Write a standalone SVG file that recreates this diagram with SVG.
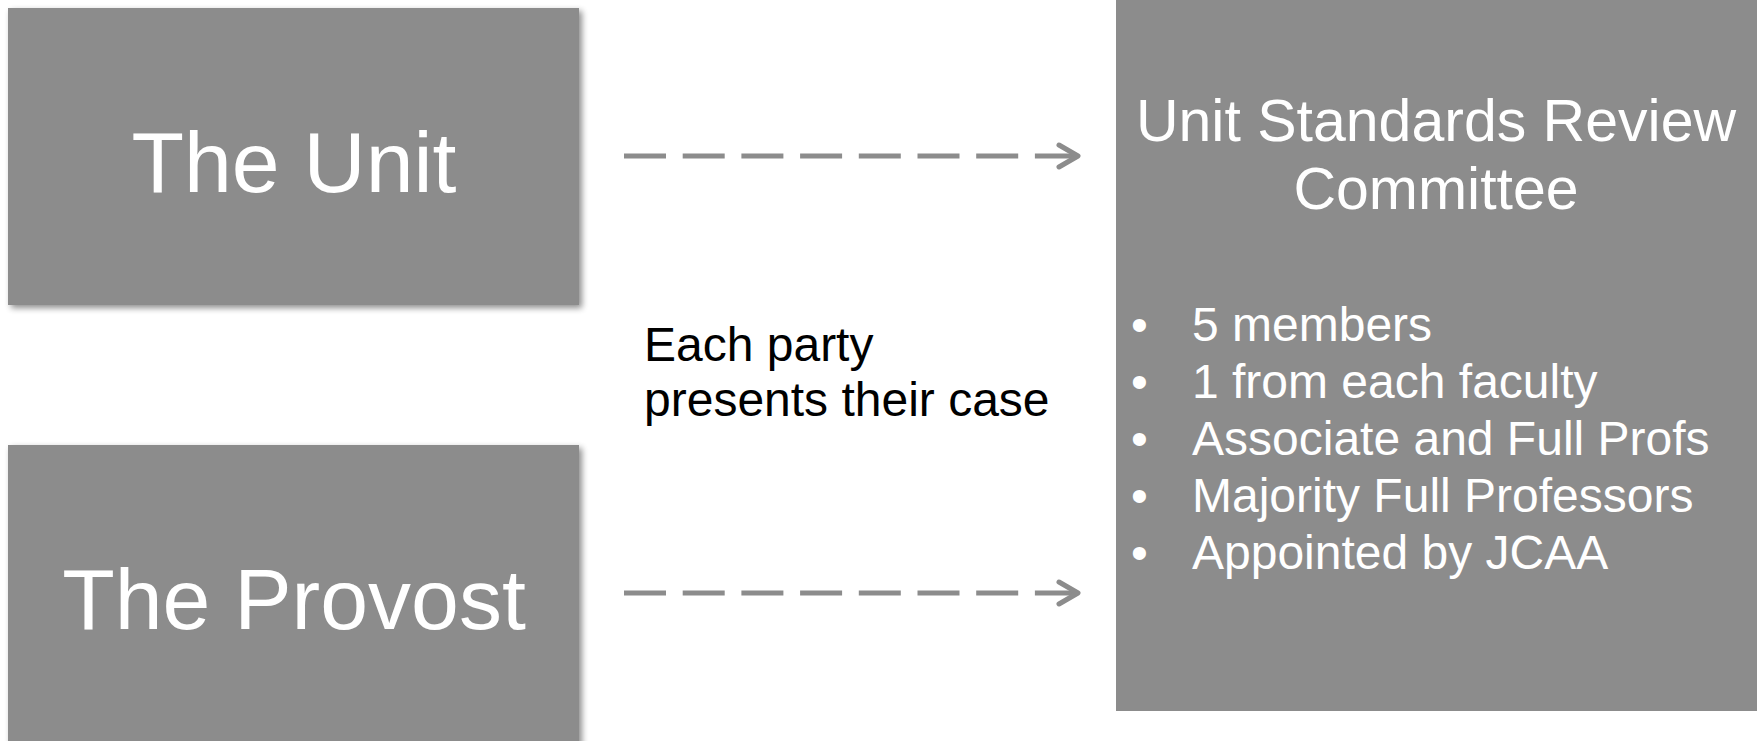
<svg xmlns="http://www.w3.org/2000/svg" width="1760" height="741" viewBox="0 0 1760 741">
  <defs>
    <filter id="shadow" x="-5%" y="-5%" width="112%" height="115%">
      <feGaussianBlur in="SourceAlpha" stdDeviation="3"/>
      <feOffset dx="3" dy="3" result="b"/>
      <feComponentTransfer><feFuncA type="linear" slope="0.45"/></feComponentTransfer>
      <feMerge><feMergeNode/><feMergeNode in="SourceGraphic"/></feMerge>
    </filter>
  </defs>
  <style>
    .box { fill: #8c8c8c; }
    .big { font-family: "Liberation Sans", Arial, sans-serif; font-size: 86px; fill: #ffffff; text-anchor: middle; }
    .title { font-family: "Liberation Sans", Arial, sans-serif; font-size: 59px; fill: #ffffff; text-anchor: middle; }
    .item { font-family: "Liberation Sans", Arial, sans-serif; font-size: 48px; fill: #ffffff; }
    .note { font-family: "Liberation Sans", Arial, sans-serif; font-size: 48px; fill: #000000; }
    .dash { stroke: #8c8c8c; stroke-width: 5; fill: none; stroke-dasharray: 42 16.7; }
    .head { stroke: #8c8c8c; stroke-width: 5; fill: none; stroke-linecap: round; stroke-linejoin: round; }
  </style>
  <rect width="1760" height="741" fill="#ffffff"/>

  <g id="unit">
    <rect class="box" x="8" y="8" width="571" height="297" filter="url(#shadow)"/>
    <text class="big" x="294" y="192">The Unit</text>
  </g>

  <g id="provost">
    <rect class="box" x="8" y="445" width="571" height="310" filter="url(#shadow)"/>
    <text class="big" x="294" y="629">The Provost</text>
  </g>

  <g id="committee">
    <rect class="box" x="1116" y="0" width="641" height="711"/>
    <text class="title" x="1436" y="141">Unit Standards Review</text>
    <text class="title" x="1436" y="209">Committee</text>
    <g class="item">
      <text x="1131" y="341">•</text><text x="1192" y="341">5 members</text>
      <text x="1131" y="398">•</text><text x="1192" y="398">1 from each faculty</text>
      <text x="1131" y="455">•</text><text x="1192" y="455">Associate and Full Profs</text>
      <text x="1131" y="512">•</text><text x="1192" y="512">Majority Full Professors</text>
      <text x="1131" y="569">•</text><text x="1192" y="569">Appointed by JCAA</text>
    </g>
  </g>

  <g id="label">
    <text class="note" x="644" y="361">Each party</text>
    <text class="note" x="644" y="416">presents their case</text>
  </g>

  <g id="connectors">
    <line class="dash" x1="624" y1="156" x2="1077" y2="156"/>
    <polyline class="head" points="1059,145 1078,156 1059,167"/>
    <line class="dash" x1="624" y1="593" x2="1077" y2="593"/>
    <polyline class="head" points="1059,582 1078,593 1059,604"/>
  </g>
</svg>
